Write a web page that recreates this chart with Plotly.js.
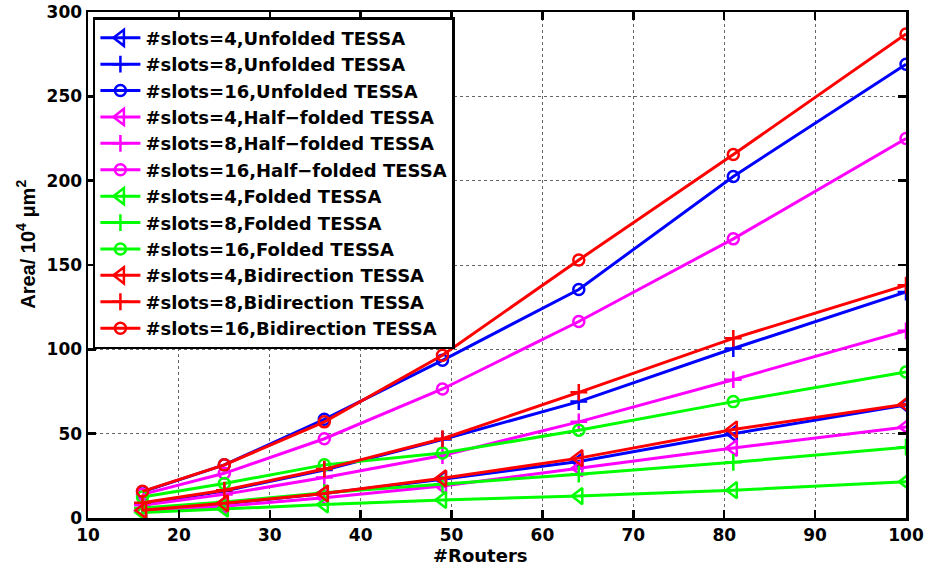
<!DOCTYPE html>
<html>
<head>
<meta charset="utf-8">
<script src="https://cdn.plot.ly/plotly-3.0.1.min.js"></script>
<style>html,body{margin:0;padding:0;background:#fff}#chart{width:925px;height:574px}</style>
</head>
<body>
<div id="chart"></div>
<script>
const routers = [16, 25, 36, 49, 64, 81, 100];

const unfolded4 = [4.5, 8.5, 14.5, 23, 33.5, 50, 67];
const unfolded8 = [8.5, 16, 28.5, 46.5, 69, 100.5, 134];
const unfolded16 = [15.5, 31.5, 58.5, 93.5, 135.5, 202.5, 269];
const half4 = [4, 7, 12, 19, 29.5, 41.5, 54];
const half8 = [7.5, 14, 24, 37, 57, 82, 111];
const half16 = [14, 26.5, 47, 76.5, 116.5, 165.5, 225];
const folded4 = [3.2, 5.5, 8, 10.7, 13, 16.5, 21.5];
const folded8 = [6, 9.5, 15, 20, 26, 33, 42];
const folded16 = [12.5, 20.5, 31.5, 38.5, 52, 69, 86.5];
const bi4 = [4.6, 8.7, 14.5, 23.5, 35.5, 52.5, 67.5];
const bi8 = [9, 16.5, 29, 47, 74.5, 106.5, 138];
const bi16 = [15.8, 31.5, 57, 96.5, 153, 215.5, 287];

const seriesNames = [
  "#slots=4,Unfolded TESSA", "#slots=8,Unfolded TESSA", "#slots=16,Unfolded TESSA",
  "#slots=4,Half−folded TESSA", "#slots=8,Half−folded TESSA", "#slots=16,Half−folded TESSA",
  "#slots=4,Folded TESSA", "#slots=8,Folded TESSA", "#slots=16,Folded TESSA",
  "#slots=4,Bidirection TESSA", "#slots=8,Bidirection TESSA", "#slots=16,Bidirection TESSA"
];
const seriesData = [unfolded4, unfolded8, unfolded16, half4, half8, half16,
                    folded4, folded8, folded16, bi4, bi8, bi16];
const xTitle = "#Routers";
const yTitle = "Area/ 10<sup>4</sup> μm<sup>2</sup>";
const colors = ["#0000ff", "#ff00ff", "#00ff00", "#ff0000"];
const symbols = ["triangle-left-open", "cross-thin-open", "circle-open"];
const sizes = [14, 12, 11];

const traces = seriesData.map((d, i) => ({
  x: routers,
  y: d,
  name: seriesNames[i],
  type: "scatter",
  mode: "lines+markers",
  line: {color: colors[Math.floor(i / 3)], width: 3},
  marker: {symbol: symbols[i % 3], size: sizes[i % 3], color: colors[Math.floor(i / 3)],
           line: {color: colors[Math.floor(i / 3)], width: 2.5}}
}));

const fam = "DejaVu Sans, Liberation Sans, Arial, sans-serif";
const tickFont = {family: fam, size: 17, color: "#000", weight: "bold"};

const layout = {
  width: 925, height: 574,
  margin: {l: 88, r: 19, t: 12, b: 56},
  paper_bgcolor: "#fff", plot_bgcolor: "#fff",
  showlegend: true,
  legend: {
    x: 0.006, y: 0.99, xanchor: "left", yanchor: "top",
    bgcolor: "#fff", bordercolor: "#000", borderwidth: 2.5,
    font: {family: fam, size: 18, color: "#000", weight: "bold"},
    tracegroupgap: 0, itemwidth: 40
  },
  xaxis: {
    range: [10, 100], tickvals: [10, 20, 30, 40, 50, 60, 70, 80, 90, 100],
    showline: true, linecolor: "#000", linewidth: 2.5, mirror: "ticks",
    ticks: "inside", ticklen: 8, tickwidth: 2.5, tickcolor: "#000",
    showgrid: true, gridcolor: "#666", griddash: "dot", gridwidth: 1,
    zeroline: false, tickfont: tickFont
  },
  yaxis: {
    range: [0, 300], tickvals: [0, 50, 100, 150, 200, 250, 300],
    showline: true, linecolor: "#000", linewidth: 2.5, mirror: "ticks",
    ticks: "inside", ticklen: 8, tickwidth: 2.5, tickcolor: "#000",
    showgrid: true, gridcolor: "#666", griddash: "dot", gridwidth: 1,
    zeroline: false, tickfont: tickFont
  },
  annotations: [
    {text: xTitle, xref: "paper", yref: "paper", x: 0.48, y: -0.074, xanchor: "center", yanchor: "middle",
     showarrow: false, font: {family: fam, size: 18, color: "#000", weight: "bold"}},
    {text: yTitle, xref: "paper", yref: "paper", x: -0.058, y: 0.54, xanchor: "right", yanchor: "middle",
     textangle: -90, showarrow: false,
     font: {family: "Liberation Sans, Arial, sans-serif", size: 20, color: "#000", weight: "bold"}}
  ]
};

Plotly.newPlot("chart", traces, layout, {displayModeBar: false, staticPlot: true});
</script>
</body>
</html>
